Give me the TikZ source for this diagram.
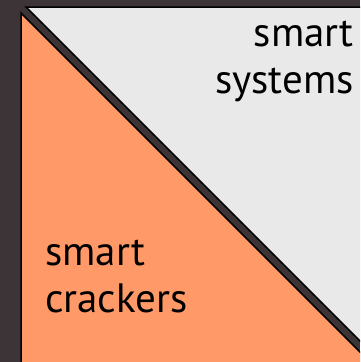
\documentclass[tikz,border=0pt]{standalone}
\usepackage{fontspec}
\setmainfont{PT Sans}
\definecolor{slate}{HTML}{3C3437}
\definecolor{paper}{HTML}{E9E9E9}
\definecolor{peach}{HTML}{FF9A68}

\tikzset{
    half edge/.style={
      draw=black,
      line width=1.5pt,
      line join=miter
    },
    systems fill/.style={
      fill=paper
    },
    crackers fill/.style={
      fill=peach
    },
    half label/.style={
      font=\fontsize{41}{47}\selectfont,
      inner sep=0pt,
      text=black
    }
  }

\begin{document}
\begin{tikzpicture}[x=1pt,y=-1pt]
      % Hintergrund
      \fill[slate] (0,0) rectangle (360,362);
      \useasboundingbox (0,0) rectangle (360,362);
      \clip (0,0) rectangle (360,362);

      % Dreiecke
      \filldraw[systems fill, half edge] (26,7) -- (400,7) -- (400,381) -- cycle;
      \filldraw[crackers fill, half edge] (21,13) -- (21,400) -- (408,400) -- cycle;

      % Beschriftung
      \node[half label, align=right, anchor=base east] (systems) at (354,93) {smart\\systems};
      \node[half label, align=left, anchor=base west] (crackers) at (45,312) {smart\\crackers};
    \end{tikzpicture}
\end{document}
